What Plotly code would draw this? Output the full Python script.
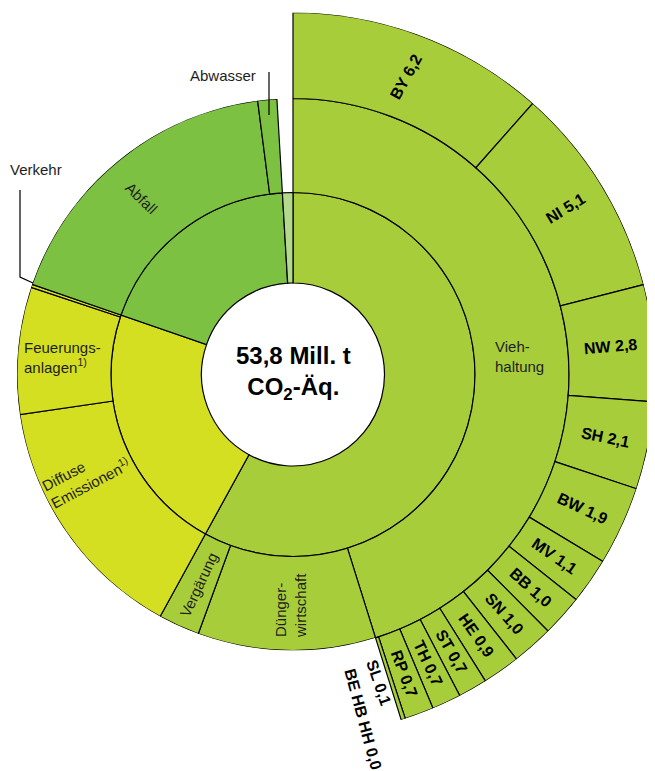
import math
import plotly.graph_objects as go

# ---------------- data ----------------
total_label = "53,8 Mill. t"

state_names = ["BY", "NI", "NW", "SH", "BW", "MV", "BB", "SN", "HE", "ST", "TH", "RP", "SL", "BE HB HH"]
state_values = [6.2, 5.1, 2.8, 2.1, 1.9, 1.1, 1.0, 1.0, 0.9, 0.7, 0.7, 0.7, 0.1, 0.0]

sub_names = ["Viehhaltung", "Düngerwirtschaft", "Vergärung",
             "Diffuse Emissionen", "Feuerungsanlagen", "Verkehr",
             "Abfall", "Abwasser"]
sub_values = [sum(state_values), 5.6, 1.3, 7.9, 4.0, 0.1, 9.5, 0.6]
sub_parents = ["Landwirtschaft", "Landwirtschaft", "Landwirtschaft",
               "Energie", "Energie", "Energie", "Abfall", "Abfall"]

main_names = ["Landwirtschaft", "Energie", "Abfall", "Sonstige"]
other_value = 0.5
main_values = [sum(v for v, p in zip(sub_values, sub_parents) if p == n) for n in main_names[:3]] + [other_value]

# ---------------- style ----------------
OFF = 8                       # page body margin of the browser
W, H = 655 - OFF, 771 - OFF   # figure size
CX, CY = 293, 374.5           # centre in window pixels
R_HOLE, R_IN, R_MID, R_OUT = 91.5, 182, 276, 362
colors = {"Landwirtschaft": "#a8cd3b", "Energie": "#d5df22", "Abfall": "#7dc143", "Sonstige": "#b4d98c"}
FONT = "Liberation Sans, Arial, sans-serif"
TXT = "#1e1e1e"
LINE = dict(color="black", width=1.2)

total = sum(main_values)
deg = 360.0 / total


def sectors(values, start=0.0):
    mids, widths, s = [], [], start
    for v in values:
        w = v * deg
        mids.append(s + w / 2)
        widths.append(w)
        s += w
    return mids, widths, s


m_mid, m_w, _ = sectors(main_values)
s_mid, s_w, _ = sectors(sub_values)
st_mid, st_w, st_end = sectors(state_values)

fig = go.Figure()
fig.add_trace(go.Barpolar(
    theta=m_mid, width=m_w, r=[R_IN - R_HOLE] * len(main_values), base=R_HOLE,
    marker=dict(color=[colors[n] for n in main_names], line=LINE),
    text=main_names, hoverinfo="text", showlegend=False, subplot="polar"))
fig.add_trace(go.Barpolar(
    theta=s_mid, width=s_w, r=[R_MID - R_IN] * len(sub_values), base=R_IN,
    marker=dict(color=[colors[p] for p in sub_parents], line=LINE),
    text=sub_names, hoverinfo="text", showlegend=False, subplot="polar"))
fig.add_trace(go.Barpolar(
    theta=st_mid, width=st_w, r=[R_OUT - R_MID] * len(state_values), base=R_MID,
    marker=dict(color=colors["Landwirtschaft"], line=LINE),
    text=state_names, hoverinfo="text", showlegend=False, subplot="polar2"))


def px(x, y):
    return (x - OFF) / W, 1 - (y - OFF) / H


def polar_px(r, th):
    t = math.radians(th)
    return CX + r * math.sin(t), CY - r * math.cos(t)


ann = []


def add_text(x, y, text, size=15, angle=0, bold=False, xanchor="center", align="center"):
    xx, yy = px(x, y)
    ann.append(dict(x=xx, y=yy, xref="paper", yref="paper", text=("<b>%s</b>" % text) if bold else text,
                    showarrow=False, textangle=angle, xanchor=xanchor, yanchor="middle", align=align,
                    font=dict(family=FONT, size=size, color="black" if bold else TXT)))


# state labels inside the outer ring
angle_override = {"BY": -61}
r_lab = (R_MID + R_OUT) / 2
for n, v, mid in zip(state_names, state_values, st_mid):
    if n in ("SL", "BE HB HH"):
        continue
    x, y = polar_px(r_lab, mid)
    add_text(x, y, "%s %s" % (n, ("%.1f" % v).replace(".", ",")), size=16,
             angle=angle_override.get(n, mid - 90), bold=True)

# small states outside the ring
sl = state_values[state_names.index("SL")]
be = state_values[state_names.index("BE HB HH")]
x, y = polar_px(320, st_end + 1.9)
add_text(x, y, "SL %s" % ("%.1f" % sl).replace(".", ","), size=16, angle=71, bold=True)
x, y = polar_px(352, st_end + 5.9)
add_text(x, y, "BE HB HH %s" % ("%.1f" % be).replace(".", ","), size=16, angle=75, bold=True)

# category labels
add_text(493, 356, "Vieh-<br>haltung", xanchor="left", align="left")
add_text(290, 606, "Dünger-<br>wirtschaft", angle=-90, align="left")
add_text(198, 585, "Vergärung", angle=-65)
add_text(86, 476, "Diffuse<br>Emissionen<sup>1)</sup>", angle=-28, align="left")
add_text(22, 357, "Feuerungs-<br>anlagen<sup>1)</sup>", xanchor="left", align="left")
add_text(142, 198, "Abfall", angle=44)
add_text(223, 76, "Abwasser")
add_text(36, 170, "Verkehr")

# centre text
cx_, cy_ = px(CX, 373)
ann.append(dict(x=cx_, y=cy_, xref="paper", yref="paper", showarrow=False,
                text="<b>%s<br>CO<sub>2</sub>-Äq.</b>" % total_label,
                font=dict(family=FONT, size=24, color="black"), align="center"))

# leader lines
shapes = []
a1, b1 = px(269, 72)
a2, b2 = px(269, 115)
shapes.append(dict(type="line", xref="paper", yref="paper", x0=a1, y0=b1, x1=a2, y1=b2,
                   line=dict(color="black", width=1.2)))
p1, p2, p3 = px(20, 190), px(20, 277), px(33, 283)
shapes.append(dict(type="path", xref="paper", yref="paper",
                   path="M %f,%f L %f,%f L %f,%f" % (p1[0], p1[1], p2[0], p2[1], p3[0], p3[1]),
                   line=dict(color="black", width=1.2)))

# ---- polar domains (figure pixels) ----
fcx, fcy = CX - OFF, CY - OFF
dom1 = dict(x=[(fcx - R_MID) / W, (fcx + R_MID) / W],
            y=[1 - (fcy + R_MID) / H, 1 - (fcy - R_MID) / H])

# outer ring: sector on the right side only
SECTOR = [-76, 91]
x0 = min(math.cos(math.radians(SECTOR[1])), 0)
y0 = math.sin(math.radians(SECTOR[0]))
dom2 = dict(x=[(fcx + x0 * R_OUT) / W, min(1.0, (fcx + R_OUT) / W)],
            y=[max(0.0, 1 - (fcy - y0 * R_OUT) / H), min(1.0, 1 - (fcy - R_OUT) / H)])

common_ang = dict(visible=False, direction="clockwise", rotation=90, showgrid=False)
fig.update_layout(
    width=W, height=H, margin=dict(l=0, r=0, t=0, b=0, pad=0),
    paper_bgcolor="white", plot_bgcolor="white",
    polar=dict(domain=dom1, bgcolor="rgba(0,0,0,0)", barmode="overlay",
               radialaxis=dict(visible=False, range=[0, R_MID], showgrid=False),
               angularaxis=common_ang),
    polar2=dict(domain=dom2, sector=SECTOR, bgcolor="rgba(0,0,0,0)", barmode="overlay",
                radialaxis=dict(visible=False, range=[0, R_OUT], showgrid=False),
                angularaxis=common_ang),
    annotations=ann, shapes=shapes,
)

fig.write_html("out.html")
